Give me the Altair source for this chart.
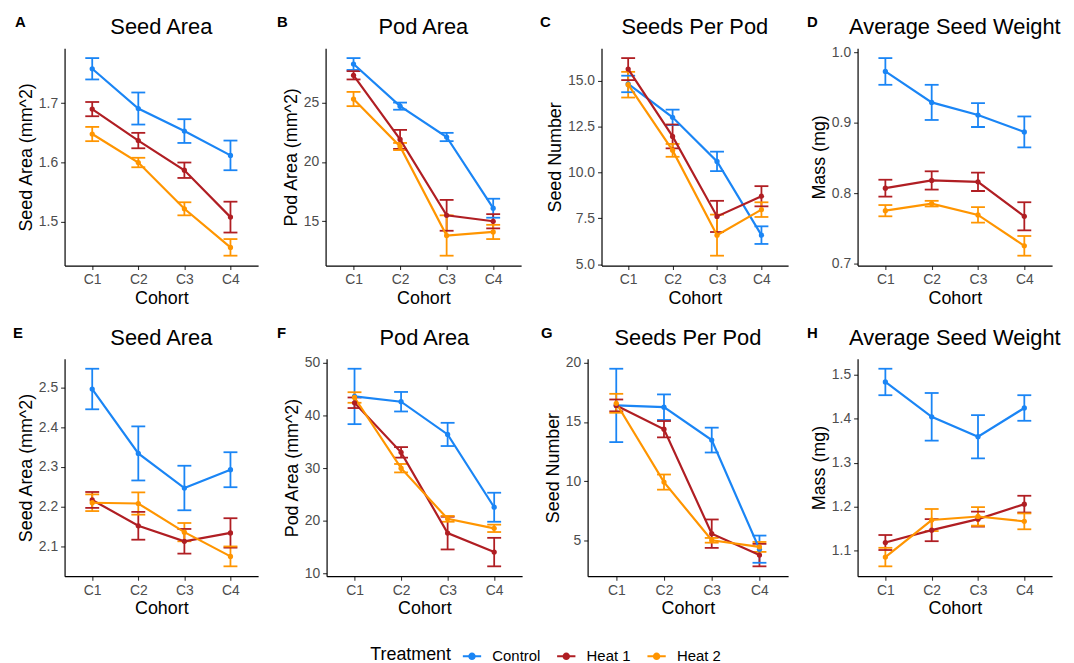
import altair as alt
import pandas as pd

FONT = "Liberation Sans"

cohorts = ["C1", "C2", "C3", "C4"]
treatments = ["Control", "Heat 1", "Heat 2"]
colors = ["#1A85F5", "#B01E23", "#FF9500"]

letters = ["A", "B", "C", "D", "E", "F", "G", "H"]
titles = ["Seed Area", "Pod Area", "Seeds Per Pod", "Average Seed Weight"] * 2
ytitles = ["Seed Area (mm^2)", "Pod Area (mm^2)", "Seed Number", "Mass (mg)"] * 2

# rows: Control, Heat 1, Heat 2 ; columns: C1..C4
A_mean = [[1.758, 1.691, 1.653, 1.612], [1.690, 1.637, 1.587, 1.508], [1.648, 1.600, 1.522, 1.457]]
A_se = [[0.018, 0.027, 0.020, 0.025], [0.012, 0.013, 0.013, 0.026], [0.012, 0.008, 0.011, 0.014]]
B_mean = [[28.25, 24.7, 22.1, 16.1], [27.3, 21.9, 15.5, 15.0], [25.3, 21.3, 13.8, 14.1]]
B_se = [[0.5, 0.3, 0.35, 0.8], [0.35, 0.8, 1.3, 0.6], [0.6, 0.3, 1.7, 0.6]]
C_mean = [[14.82, 13.0, 10.6, 6.58], [15.63, 11.96, 7.6, 8.7], [14.78, 11.2, 6.58, 7.97]]
C_se = [[0.45, 0.42, 0.53, 0.48], [0.6, 0.65, 0.85, 0.55], [0.7, 0.35, 1.12, 0.4]]
D_mean = [[0.973, 0.929, 0.911, 0.887], [0.807, 0.818, 0.816, 0.767], [0.775, 0.785, 0.769, 0.725]]
D_se = [[0.019, 0.025, 0.017, 0.022], [0.012, 0.013, 0.013, 0.020], [0.008, 0.004, 0.011, 0.014]]
E_mean = [[2.496, 2.334, 2.247, 2.293], [2.217, 2.152, 2.113, 2.134], [2.210, 2.208, 2.136, 2.075]]
E_se = [[0.051, 0.068, 0.056, 0.044], [0.020, 0.035, 0.031, 0.037], [0.021, 0.028, 0.023, 0.025]]
F_mean = [[43.6, 42.6, 36.4, 22.6], [42.4, 33.0, 17.7, 14.1], [43.4, 30.0, 20.4, 18.6]]
F_se = [[5.25, 1.85, 2.2, 2.75], [1.0, 1.0, 3.1, 2.7], [1.0, 0.8, 0.55, 0.7]]
G_mean = [[16.4, 16.25, 13.47, 4.25], [16.4, 14.39, 5.56, 3.75], [16.58, 9.92, 5.0, 4.44]]
G_se = [[3.1, 1.08, 1.05, 1.15], [0.5, 0.69, 1.2, 0.95], [0.8, 0.64, 0.2, 0.42]]
H_mean = [[1.483, 1.404, 1.359, 1.424], [1.119, 1.147, 1.172, 1.206], [1.086, 1.170, 1.178, 1.167]]
H_se = [[0.030, 0.054, 0.049, 0.029], [0.017, 0.025, 0.017, 0.019], [0.021, 0.025, 0.021, 0.018]]

A_ticks = [1.5, 1.6, 1.7]
B_ticks = [15, 20, 25]
C_ticks = [5.0, 7.5, 10.0, 12.5, 15.0]
D_ticks = [0.7, 0.8, 0.9, 1.0]
E_ticks = [2.1, 2.2, 2.3, 2.4, 2.5]
F_ticks = [10, 20, 30, 40, 50]
G_ticks = [5, 10, 15, 20]
H_ticks = [1.1, 1.2, 1.3, 1.4, 1.5]

means = [A_mean, B_mean, C_mean, D_mean, E_mean, F_mean, G_mean, H_mean]
ses = [A_se, B_se, C_se, D_se, E_se, F_se, G_se, H_se]
tickvals = [A_ticks, B_ticks, C_ticks, D_ticks, E_ticks, F_ticks, G_ticks, H_ticks]
fmts = [".1f", "d", ".1f", ".1f", ".1f", "d", "d", ".1f"]
widths = [195, 197, 188, 196, 195, 197, 202, 196]
letter_dx = [-50, -49, -62, -51, -52, -50, -47, -51]
PH = 219

color = alt.Color(
    "treatment:N",
    scale=alt.Scale(domain=treatments, range=colors),
    legend=alt.Legend(
        title="Treatment",
        orient="none",
        legendX=308,
        legendY=602,
        direction="horizontal",
        titleOrient="left",
        symbolType="M-1,0L1,0M-0.3,0A0.3,0.3,0,1,0,0.3,0A0.3,0.3,0,1,0,-0.3,0Z",
        symbolSize=340,
        symbolStrokeWidth=2,
        labelOffset=10,
        columnPadding=12,
        titlePadding=10,
    ),
)


def panel(i):
    rows = []
    for ti, t in enumerate(treatments):
        for ci, c in enumerate(cohorts):
            m = means[i][ti][ci]
            s = ses[i][ti][ci]
            rows.append({"cohort": c, "treatment": t, "mean": m, "lo": m - s, "hi": m + s})
    df = pd.DataFrame(rows)
    lo_all = df["lo"].min()
    hi_all = df["hi"].max()
    pad = 0.05 * (hi_all - lo_all)
    yscale = alt.Scale(domain=[lo_all - pad, hi_all + pad], nice=False, zero=False)
    yaxis = alt.Axis(values=tickvals[i], format=fmts[i], title=ytitles[i])

    def Y(f):
        return alt.Y(f"{f}:Q", scale=yscale, axis=yaxis)

    x = alt.X(
        "cohort:N",
        sort=cohorts,
        scale=alt.Scale(type="point", domain=cohorts, padding=0.6),
        axis=alt.Axis(title="Cohort", labelAngle=0),
    )
    base = alt.Chart(df).encode(x=x, color=color)
    rule = base.mark_rule(strokeWidth=1.8).encode(y=Y("lo"), y2="hi:Q")
    cap_lo = base.mark_tick(size=14, thickness=1.8, opacity=1).encode(y=Y("lo"))
    cap_hi = base.mark_tick(size=14, thickness=1.8, opacity=1).encode(y=Y("hi"))
    line = base.mark_line(strokeWidth=2.2).encode(y=Y("mean"))
    pts = base.mark_circle(size=28, opacity=1).encode(y=Y("mean"))
    lab = pd.DataFrame({"letter": [letters[i]], "title": [titles[i]]})
    letter = alt.Chart(lab).mark_text(
        align="left", baseline="alphabetic", fontSize=15, fontWeight="bold",
        font=FONT, color="black"
    ).encode(text="letter:N", x=alt.value(letter_dx[i]), y=alt.value(-21))
    title = alt.Chart(lab).mark_text(
        align="center", baseline="alphabetic", fontSize=22, font=FONT, color="black"
    ).encode(text="title:N", x=alt.value(widths[i] / 2), y=alt.value(-14))
    return alt.layer(rule, cap_lo, cap_hi, line, pts, letter, title).properties(
        width=widths[i],
        height=PH,
    )


p = [panel(i) for i in range(8)]

row1 = alt.hconcat(p[0], p[1], p[2], p[3], spacing=19)
row2 = alt.hconcat(p[4], p[5], p[6], p[7], spacing=19)

chart = alt.vconcat(row1, row2, spacing=19).properties(
    padding={"left": 5, "top": 5, "right": 5, "bottom": 5}
).configure(
    background="white"
).configure_view(
    stroke=None
).configure_axis(
    grid=False,
    domainColor="black",
    domainWidth=1.2,
    tickColor="#333333",
    tickSize=4,
    tickWidth=1.1,
    labelColor="#4D4D4D",
    labelFont=FONT,
    labelFontSize=14,
    labelPadding=3,
    titleFont=FONT,
    titleFontSize=18,
    titleFontWeight="normal",
    titleColor="black",
    titlePadding=3,
).configure_legend(
    titleFont=FONT,
    titleFontSize=18,
    titleFontWeight="normal",
    titleColor="black",
    labelFont=FONT,
    labelFontSize=15,
    labelColor="black",
)

chart.save("out.html", embed_options={"renderer": "svg", "actions": False})
